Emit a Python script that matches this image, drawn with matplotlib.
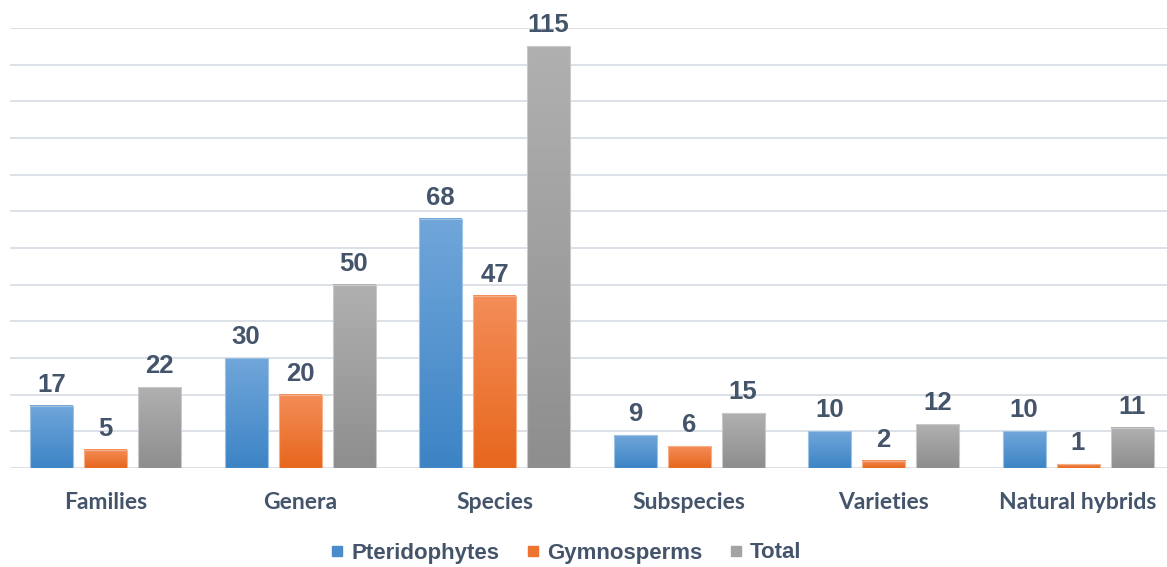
import matplotlib
matplotlib.use("Agg")
import matplotlib.pyplot as plt
import numpy as np
from matplotlib.colors import LinearSegmentedColormap
from matplotlib.lines import Line2D

# data
categories = ['Families', 'Genera', 'Species', 'Subspecies', 'Varieties', 'Natural hybrids']
pteridophytes = [17, 30, 68, 9, 10, 10]
gymnosperms = [5, 20, 47, 6, 2, 1]
total = [22, 50, 115, 15, 12, 11]
series_names = ['Pteridophytes', 'Gymnosperms', 'Total']

# gradient (top, bottom) + edge + legend colour per series
grad = [('#70a6da', '#3d84c5'), ('#f48d58', '#e7671d'), ('#b0b0b0', '#8e8e8e')]
edges = ['#9cc2e6', '#f5b08a', '#c9c9c9']
legend_cols = ['#4a8ccb', '#ed7430', '#a3a3a3']
text_col = '#44546a'

W, H = 1167, 567
fig = plt.figure(figsize=(W / 100, H / 100), dpi=100)
ax = fig.add_axes([10 / W, 99 / H, 1157 / W, 440 / H])

group_px = 194.5
x_left = -95.5 / group_px
x_right = x_left + 1157 / group_px
bw = 43 / group_px
step = 54 / group_px

x = np.arange(len(categories))
all_series = [pteridophytes, gymnosperms, total]

for i, vals in enumerate(all_series):
    cmap = LinearSegmentedColormap.from_list('g%d' % i, [grad[i][1], grad[i][0]])
    bars = ax.bar(x + (i - 1) * step, vals, bw, facecolor='none',
                  edgecolor=edges[i], linewidth=0.8, zorder=3)
    for b in bars:
        x0, w, h = b.get_x(), b.get_width(), b.get_height()
        g = np.linspace(0, 1, 100).reshape(-1, 1)
        ax.imshow(g, cmap=cmap, origin='lower', aspect='auto',
                  extent=(x0, x0 + w, 0, h), zorder=2, interpolation='bilinear')
        ax.annotate(str(h if h % 1 else int(h)), xy=(x0 + w / 2, h),
                    xytext=(0, 6.5), textcoords='offset points',
                    ha='center', va='bottom', fontsize=18.5, fontweight='bold',
                    family='Liberation Sans', color=text_col)

ax.set_xlim(x_left, x_right)
ax.set_ylim(0, 120)
ax.set_yticks(range(0, 121, 10))
ax.yaxis.grid(True, color='#dce1e8', linewidth=1.4, zorder=0)
ax.set_axisbelow(True)
ax.tick_params(axis='y', left=False, labelleft=False)
ax.set_xticks(x)
ax.set_xticklabels(categories, fontsize=16.5, fontweight='bold', family='Lato', color=text_col)
ax.tick_params(axis='x', bottom=False, pad=13.5)
for s in ax.spines.values():
    s.set_visible(False)

handles = [Line2D([], [], linestyle='none', marker='s', markersize=7.5,
                  markerfacecolor=c, markeredgecolor=c) for c in legend_cols]
leg = fig.legend(handles, series_names, loc='center', bbox_to_anchor=(566 / W, 14 / H),
                 ncol=3, frameon=False, handlelength=0.6, handletextpad=0.35,
                 columnspacing=1.2, prop={'family': 'Liberation Sans', 'weight': 'bold', 'size': 16})
for t in leg.get_texts():
    t.set_color(text_col)

fig.savefig('out.png', dpi=100)
